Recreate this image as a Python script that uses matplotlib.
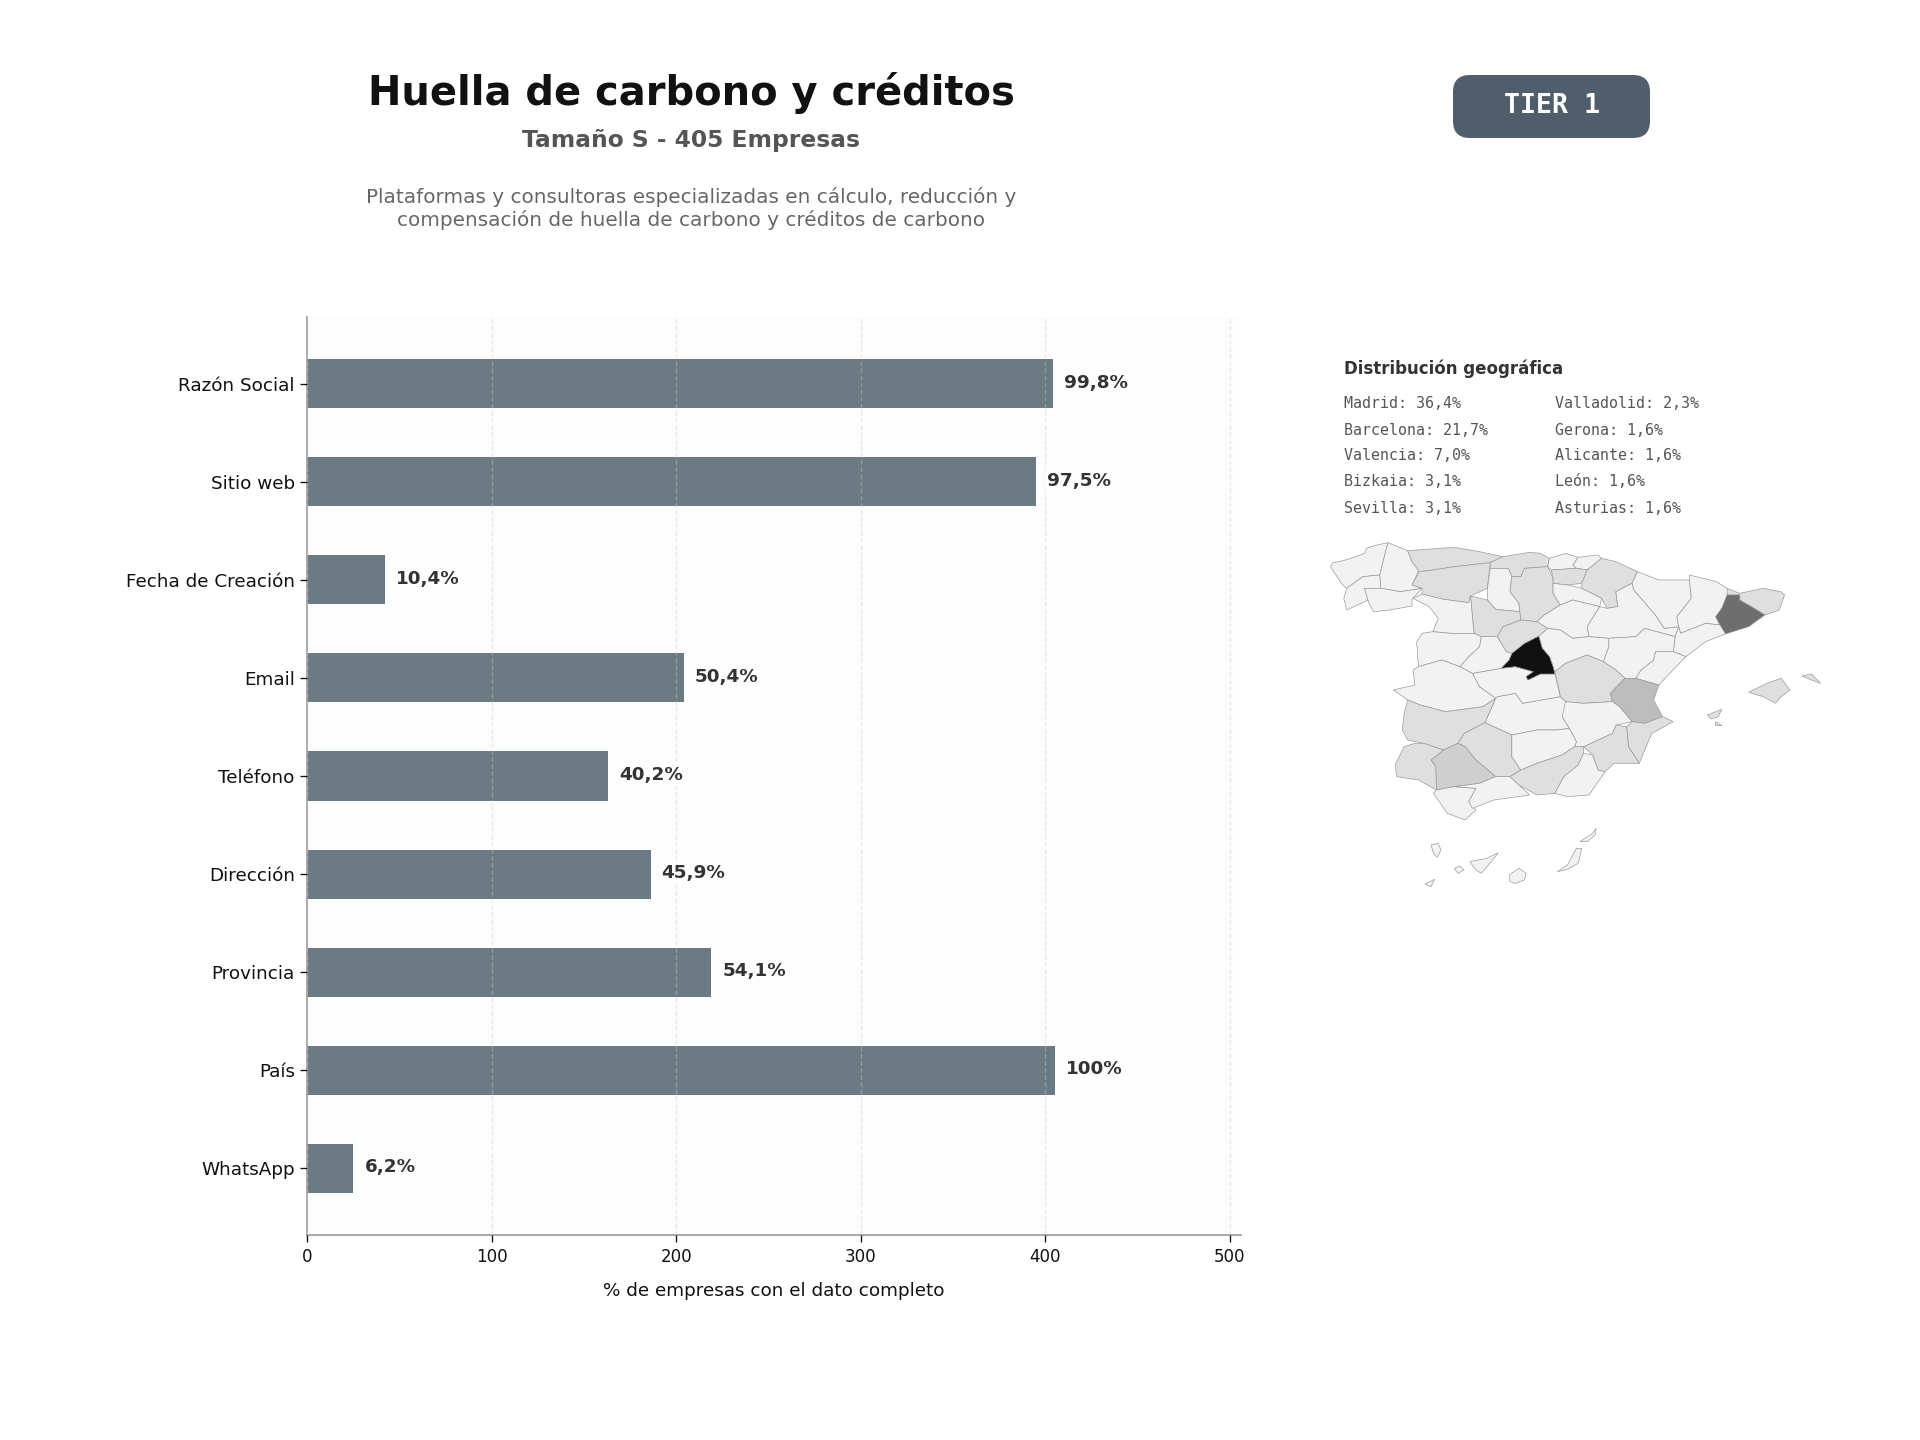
import matplotlib
matplotlib.use("Agg")
import matplotlib.pyplot as plt
from matplotlib.patches import FancyBboxPatch, Polygon

W, H = 1920, 1440

# ── datos del gráfico ─────────────────────────────
campos = ["Razón Social", "Sitio web", "Fecha de Creación", "Email", "Teléfono",
          "Dirección", "Provincia", "País", "WhatsApp"]
empresas = [404, 395, 42, 204, 163, 186, 219, 405, 25]
etiquetas = ["99,8%", "97,5%", "10,4%", "50,4%", "40,2%", "45,9%", "54,1%", "100%", "6,2%"]
xticks = [0, 100, 200, 300, 400, 500]

geo_col1 = ["Madrid: 36,4%", "Barcelona: 21,7%", "Valencia: 7,0%", "Bizkaia: 3,1%", "Sevilla: 3,1%"]
geo_col2 = ["Valladolid: 2,3%", "Gerona: 1,6%", "Alicante: 1,6%", "León: 1,6%", "Asturias: 1,6%"]

# tonos del mapa
L, M, S, V, B, K = "#f2f2f2", "#dfdfdf", "#cfcfcf", "#bdbdbd", "#6e6e6e", "#111111"

# contornos aproximados
provincias = {
    "Coruña": (L, [(85,140),(92,128),(120,122),(150,112),(180,100),(185,85),(215,75),(245,68),(235,110),(222,165),(175,170),(130,205),(115,190),(100,165)]),
    "Lugo": (L, [(245,68),(300,92),(312,125),(332,150),(312,195),(340,205),(280,215),(225,205),(222,165),(235,110)]),
    "Pontevedra": (L, [(130,205),(175,170),(222,165),(225,205),(180,205),(190,240),(130,270),(122,235)]),
    "Ourense": (L, [(180,205),(225,205),(280,215),(340,205),(312,238),(312,258),(250,270),(205,275),(192,250)]),
    "Asturias": (M, [(300,92),(430,82),(500,95),(565,110),(530,128),(430,140),(370,150),(332,155),(312,125)]),
    "León": (M, [(332,155),(370,150),(430,140),(530,128),(522,205),(475,228),(470,248),(400,238),(340,222),(340,205),(312,195)]),
    "Cantabria": (M, [(530,128),(565,110),(640,97),(670,100),(695,115),(690,140),(625,145),(615,170),(590,170),(580,145),(530,145)]),
    "Palencia": (L, [(530,145),(580,145),(590,170),(585,215),(610,250),(612,275),(545,268),(522,240),(522,205)]),
    "Burgos": (M, [(590,170),(615,170),(625,145),(690,140),(705,175),(705,220),(725,255),(680,285),(660,305),(615,300),(612,275),(610,250),(585,215)]),
    "Bizkaia": (L, [(695,115),(740,100),(775,112),(760,135),(770,145),(700,150),(690,140)]),
    "Gipuzkoa": (L, [(775,112),(830,105),(840,115),(800,150),(770,145),(760,135)]),
    "Álava": (M, [(700,150),(770,145),(800,150),(785,190),(745,195),(705,190),(705,175)]),
    "Navarra": (M, [(840,115),(880,125),(940,155),(925,190),(880,215),(885,260),(855,265),(840,235),(785,205),(785,190),(800,150)]),
    "Rioja": (L, [(705,190),(745,195),(785,205),(840,235),(835,260),(760,240),(725,255),(705,220)]),
    "Soria": (L, [(725,255),(760,240),(835,260),(800,320),(805,350),(760,355),(725,330),(690,325),(660,305),(680,285)]),
    "Zaragoza": (L, [(885,260),(880,215),(925,190),(930,210),(990,285),(1015,325),(1055,320),(1045,350),(960,325),(935,350),(860,355),(805,350),(800,320),(835,260),(855,265)]),
    "Huesca": (L, [(940,155),(1000,180),(1085,180),(1090,235),(1050,290),(1055,320),(1015,325),(990,285),(930,210),(925,190)]),
    "Lleida": (L, [(1085,180),(1085,165),(1160,185),(1190,205),(1200,225),(1190,225),(1175,265),(1158,290),(1170,315),(1130,310),(1060,340),(1055,320),(1050,290),(1090,235)]),
    "Girona": (M, [(1190,205),(1225,220),(1290,205),(1340,215),(1350,225),(1335,270),(1295,285),(1265,265),(1225,240),(1225,225),(1190,225)]),
    "Barcelona": (B, [(1190,225),(1225,225),(1225,240),(1265,265),(1295,285),(1250,320),(1185,342),(1170,315),(1158,290),(1175,265)]),
    "Tarragona": (L, [(1060,340),(1130,310),(1170,315),(1185,342),(1130,365),(1075,410),(1040,395),(1045,350),(1055,320)]),
    "Castellón": (L, [(990,395),(1040,395),(1075,410),(1030,460),(1000,495),(935,475),(950,450),(985,420)]),
    "Teruel": (L, [(860,355),(935,350),(960,325),(1045,350),(1040,395),(990,395),(985,420),(950,450),(935,475),(905,475),(880,450),(845,425),(860,380)]),
    "Guadalajara": (L, [(690,325),(725,330),(760,355),(805,350),(860,355),(860,380),(845,425),(800,405),(740,430),(710,455),(705,440),(695,410),(675,385),(665,348)]),
    "Cuenca": (M, [(710,455),(740,430),(800,405),(845,425),(880,450),(905,475),(865,520),(870,545),(790,550),(740,545),(725,530),(720,500)]),
    "Valencia": (V, [(905,475),(935,475),(1000,495),(985,540),(1010,590),(960,610),(925,605),(890,560),(870,545),(865,520)]),
    "Alicante": (M, [(960,610),(1010,590),(1040,605),(980,640),(945,730),(915,680),(910,620),(925,605)]),
    "Murcia": (M, [(880,615),(910,620),(915,680),(945,730),(875,730),(850,755),(830,750),(815,705),(790,680),(870,640)]),
    "Albacete": (L, [(725,530),(740,545),(790,550),(870,545),(890,560),(925,605),(880,615),(870,640),(790,680),(765,680),(770,665),(750,625),(730,590)]),
    "Ciudad Real": (L, [(545,535),(550,530),(600,520),(620,550),(725,530),(740,545),(730,590),(750,625),(715,630),(660,630),(590,645),(515,608)]),
    "Toledo": (L, [(480,460),(560,445),(600,440),(650,455),(630,470),(635,480),(670,462),(710,462),(725,530),(620,550),(600,520),(550,530),(545,535),(500,500)]),
    "Madrid": (K, [(560,445),(582,420),(590,400),(625,370),(665,348),(675,385),(695,410),(705,440),(710,462),(670,462),(635,480),(630,470),(650,455),(600,440)]),
    "Ávila": (L, [(505,350),(550,350),(575,395),(590,400),(582,420),(560,445),(480,460),(445,440),(470,410),(500,380)]),
    "Segovia": (M, [(565,320),(615,300),(660,305),(690,325),(665,348),(625,370),(590,400),(575,395),(550,350)]),
    "Valladolid": (M, [(475,228),(522,240),(545,268),(612,275),(615,300),(565,320),(550,350),(505,350),(485,340),(482,310)]),
    "Zamora": (L, [(315,235),(340,222),(400,238),(470,248),(475,228),(482,310),(485,340),(420,340),(370,335),(385,295),(360,260)]),
    "Salamanca": (L, [(340,340),(370,335),(420,340),(485,340),(505,350),(500,380),(470,410),(445,440),(395,420),(330,440),(325,365)]),
    "Cáceres": (L, [(315,450),(330,440),(395,420),(445,440),(480,460),(500,500),(545,535),(510,560),(405,575),(335,555),(300,540),(260,510),(320,495)]),
    "Badajoz": (M, [(300,540),(335,555),(405,575),(510,560),(545,535),(515,608),(458,640),(440,670),(400,690),(345,670),(300,660),(285,630),(290,580)]),
    "Córdoba": (M, [(515,608),(590,645),(590,710),(615,750),(585,770),(545,770),(490,720),(460,680),(440,670),(458,640)]),
    "Sevilla": (S, [(365,720),(400,690),(440,670),(460,680),(490,720),(545,770),(500,790),(430,800),(380,810),(378,740)]),
    "Huelva": (M, [(290,680),(320,670),(345,670),(400,690),(365,720),(378,740),(380,810),(330,780),(270,770),(265,735)]),
    "Cádiz": (L, [(380,810),(430,800),(490,805),(470,845),(490,870),(460,900),(410,880),(372,820)]),
    "Málaga": (L, [(430,800),(500,790),(545,770),(585,770),(610,795),(640,825),(540,840),(480,865),(470,845),(490,805)]),
    "Jaén": (L, [(590,645),(660,630),(715,630),(750,625),(770,665),(765,680),(730,705),(660,730),(615,750),(590,710)]),
    "Granada": (M, [(615,750),(660,730),(730,705),(765,680),(790,680),(790,700),(775,735),(735,770),(710,820),(660,825),(610,795),(585,770)]),
    "Almería": (L, [(790,700),(815,705),(830,750),(850,755),(805,825),(745,830),(710,820),(735,770),(775,735)]),
    "Mallorca": (M, [(1250,517),(1300,490),(1340,475),(1365,510),(1340,530),(1325,550),(1290,530)]),
    "Menorca": (M, [(1398,468),(1425,462),(1450,490),(1420,478)]),
    "Ibiza": (M, [(1135,585),(1175,568),(1165,590),(1145,597)]),
    "Formentera": (M, [(1158,605),(1175,617),(1158,617)]),
    "La Palma": (L, [(365,975),(385,970),(393,990),(382,1012),(372,1000)]),
    "Gomera": (L, [(430,1045),(445,1038),(457,1050),(440,1060)]),
    "Tenerife": (L, [(473,1025),(520,1015),(553,998),(540,1015),(505,1060),(490,1050)]),
    "Gran Canaria": (L, [(583,1065),(610,1045),(630,1060),(625,1080),(600,1090),(585,1085)]),
    "Hierro": (L, [(348,1092),(375,1078),(365,1100)]),
    "Fuerteventura": (L, [(717,1055),(745,1035),(770,985),(785,985),(775,1030),(745,1048)]),
    "Lanzarote": (L, [(780,965),(815,940),(825,925),(822,945),(800,965)]),
}


def px_text(fig, x, y, s, **kw):
    # posiciones en píxeles de la imagen final
    return fig.text(x / W, 1 - y / H, s, **kw)


fig = plt.figure(figsize=(16, 12), dpi=120, facecolor="white")

# ── barras ────────────────────────────────────────
ax = fig.add_axes([307.3 / W, 1 - 1235 / H, (1241 - 307.3) / W, (1235 - 317) / H])
ax.set_facecolor("#fdfdfd")
ax.barh(range(len(campos)), empresas, height=0.5, color="#6c7a83", zorder=2)
ax.set_xlim(0, 506)
ax.set_ylim(8.68, -0.68)
ax.set_yticks(range(len(campos)))
ax.set_yticklabels(campos, fontsize=11, color="#111111")
ax.set_xticks(xticks)
ax.tick_params(axis="x", labelsize=10, length=4, width=0.8, colors="#111111")
ax.tick_params(axis="y", length=4, width=0.8, colors="#111111")
ax.set_xlabel("% de empresas con el dato completo", fontsize=11, color="#111111", labelpad=10)
# la rejilla pasa por encima de las barras, muy tenue
ax.grid(axis="x", linestyle="--", color="#cccccc", alpha=0.4, linewidth=0.8, zorder=3)
ax.set_axisbelow(False)
for lado in ["top", "right"]:
    ax.spines[lado].set_visible(False)
for lado in ["left", "bottom"]:
    ax.spines[lado].set_color("#999999")
    ax.spines[lado].set_linewidth(1.0)

for i, (v, txt) in enumerate(zip(empresas, etiquetas)):
    ax.text(v + 6, i - 0.01, txt, va="center", ha="left", fontsize=11, fontweight="bold",
            color="#333333", zorder=4,
            bbox=dict(facecolor="white", edgecolor="none", pad=1.5, alpha=0.8))

# ── cabecera ──────────────────────────────────────
px_text(fig, 691, 93, "Huella de carbono y créditos", fontsize=24, fontweight="bold",
        color="#111111", ha="center", va="center")
px_text(fig, 691, 141, "Tamaño S - 405 Empresas", fontsize=14, fontweight="bold",
        color="#555555", ha="center", va="center")
px_text(fig, 691, 197, "Plataformas y consultoras especializadas en cálculo, reducción y",
        fontsize=12, color="#666666", ha="center", va="center")
px_text(fig, 691, 220, "compensación de huella de carbono y créditos de carbono",
        fontsize=12, color="#666666", ha="center", va="center")

# caja dibujada en píxeles para que las esquinas salgan redondas
badge = FancyBboxPatch((1453, H - 138), 197, 63, boxstyle="round,pad=0,rounding_size=17",
                       transform=None, facecolor="#505d6b", edgecolor="none")
fig.patches.append(badge)
px_text(fig, 1552, 106, "TIER 1", fontsize=16, fontweight="bold", family="DejaVu Sans Mono",
        color="white", ha="center", va="center")

# ── distribución geográfica ───────────────────────
px_text(fig, 1344, 369, "Distribución geográfica", fontsize=10, fontweight="bold",
        color="#333333", ha="left", va="center")
filas_y = [404, 430, 456, 482, 508]
for y, a, b in zip(filas_y, geo_col1, geo_col2):
    px_text(fig, 1344, y, a, fontsize=9, family="DejaVu Sans Mono", color="#555555", ha="left", va="center")
    px_text(fig, 1555, y, b, fontsize=9, family="DejaVu Sans Mono", color="#555555", ha="left", va="center")

# ── mapa ──────────────────────────────────────────
ax_map = fig.add_axes([1300 / W, 1 - 920 / H, 560 / W, 400 / H])
ax_map.set_xlim(0, 1560)
ax_map.set_ylim(1200, 0)
ax_map.axis("off")
for nombre, (tono, puntos) in provincias.items():
    ax_map.add_patch(Polygon(puntos, closed=True, facecolor=tono, edgecolor="#999999", linewidth=0.4))

fig.savefig("out.png", dpi=120)
